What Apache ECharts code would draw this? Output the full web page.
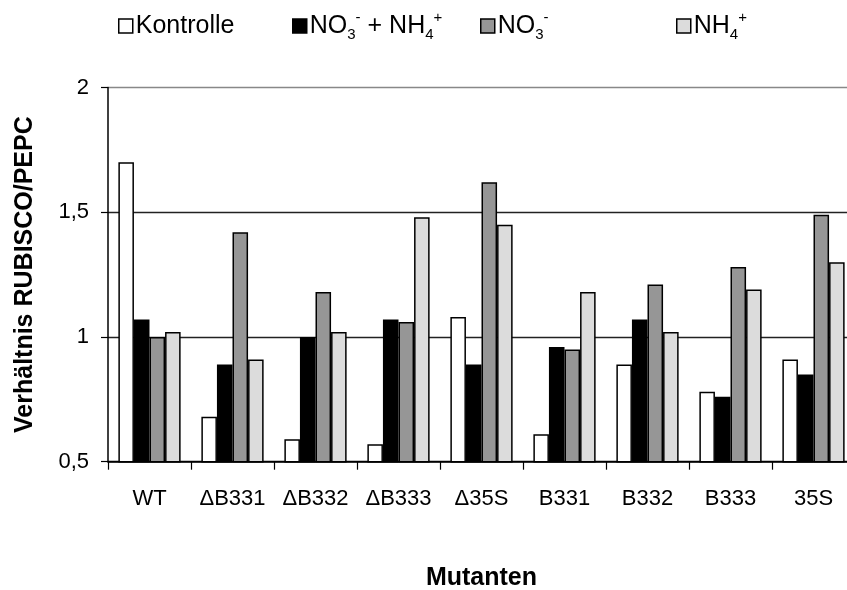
<!DOCTYPE html>
<html>
<head>
<meta charset="utf-8">
<script src="https://cdn.jsdelivr.net/npm/echarts@6/dist/echarts.min.js"></script>
<style>
  html, body { margin: 0; padding: 0; background: #fff; }
  #chart { width: 847px; height: 590px; }
</style>
</head>
<body>
<div id="chart"></div>
<script>
// Kategorien (Mutanten)
var categories = ["WT", "\u0394B331", "\u0394B332", "\u0394B333", "\u039435S", "B331", "B332", "B333", "35S"];
// Verhältnis RUBISCO/PEPC je Behandlung
var kontrolle = [1.70, 0.68, 0.59, 0.57, 1.08, 0.61, 0.89, 0.78, 0.91];
var no3nh4 = [1.07, 0.89, 1.00, 1.07, 0.89, 0.96, 1.07, 0.76, 0.85];
var no3 = [1.00, 1.42, 1.18, 1.06, 1.62, 0.95, 1.21, 1.28, 1.49];
var nh4 = [1.02, 0.91, 1.02, 1.48, 1.45, 1.18, 1.02, 1.19, 1.30];
var yTicks = [0.5, 1, 1.5, 2];

var seriesNames = ["Kontrolle", "NO3- + NH4+", "NO3-", "NH4+"];
var seriesData = [kontrolle, no3nh4, no3, nh4];
var colors = ["#ffffff", "#000000", "#969696", "#dcdcdc"];

var font = "'Liberation Sans', Arial, sans-serif";

// Legendentext mit Hoch-/Tiefstellung
var legendLabels = {
  "Kontrolle": "Kontrolle",
  "NO3- + NH4+": "NO{sub|3}{sup|-} + NH{sub|4}{sup|+}",
  "NO3-": "NO{sub|3}{sup|-}",
  "NH4+": "NH{sub|4}{sup|+}"
};
var legendLeft = [118, 292, 480, 676];

var legends = seriesNames.map(function (name, i) {
  return {
    left: legendLeft[i],
    top: 10,
    padding: 0,
    data: [name],
    icon: "rect",
    itemWidth: 14,
    itemHeight: 14,
    itemStyle: { borderColor: "#000", borderWidth: 1.5 },
    selectedMode: false,
    formatter: function (n) {
      return legendLabels[n];
    },
    textStyle: {
      fontFamily: font,
      fontSize: 25,
      color: "#000",
      lineHeight: 32,
      padding: [0, 0, 0, -2],
      rich: {
        sub: { fontFamily: font, fontSize: 15, color: "#000", verticalAlign: "bottom", lineHeight: 14 },
        sup: { fontFamily: font, fontSize: 15, color: "#000", verticalAlign: "top", lineHeight: 14 }
      }
    }
  };
});

var series = seriesNames.map(function (name, i) {
  return {
    name: name,
    type: "bar",
    barGap: "0%",
    barCategoryGap: "25%",
    itemStyle: { color: colors[i], borderColor: "#000", borderWidth: 1.5 },
    data: seriesData[i]
  };
});

var option = {
  animation: false,
  backgroundColor: "#fff",
  legend: legends,
  grid: {
    left: 108,
    right: -8,
    top: 87.5,
    bottom: 128.3,
    containLabel: false,
    outerBoundsMode: "none"
  },
  xAxis: {
    type: "category",
    data: categories,
    name: "Mutanten",
    nameLocation: "middle",
    nameGap: 104,
    nameTextStyle: { fontFamily: font, fontSize: 25, fontWeight: "bold", color: "#000" },
    axisLine: { lineStyle: { color: "#000", width: 1.5 } },
    axisTick: { show: true, length: 8, lineStyle: { color: "#000", width: 1.2 } },
    axisLabel: { interval: 0, fontFamily: font, fontSize: 22, color: "#000", margin: 26 },
    splitLine: { show: false }
  },
  yAxis: {
    type: "value",
    min: yTicks[0],
    max: yTicks[yTicks.length - 1],
    interval: 0.5,
    name: "Verhältnis RUBISCO/PEPC",
    nameLocation: "middle",
    nameGap: 70,
    nameTextStyle: { fontFamily: font, fontSize: 25, fontWeight: "bold", color: "#000" },
    axisLine: { show: true, lineStyle: { color: "#000", width: 1.5 } },
    axisTick: { show: true, length: 7, lineStyle: { color: "#000", width: 1.2 } },
    axisLabel: {
      fontFamily: font,
      fontSize: 22,
      color: "#000",
      margin: 19,
      formatter: function (v) {
        return String(v).replace(".", ",");
      }
    },
    splitLine: {
      show: true,
      lineStyle: { color: ["#000", "#222", "#222", "#888"], width: 1.3 }
    }
  },
  series: series
};

var chart = echarts.init(document.getElementById("chart"));
chart.setOption(option);
</script>
</body>
</html>
